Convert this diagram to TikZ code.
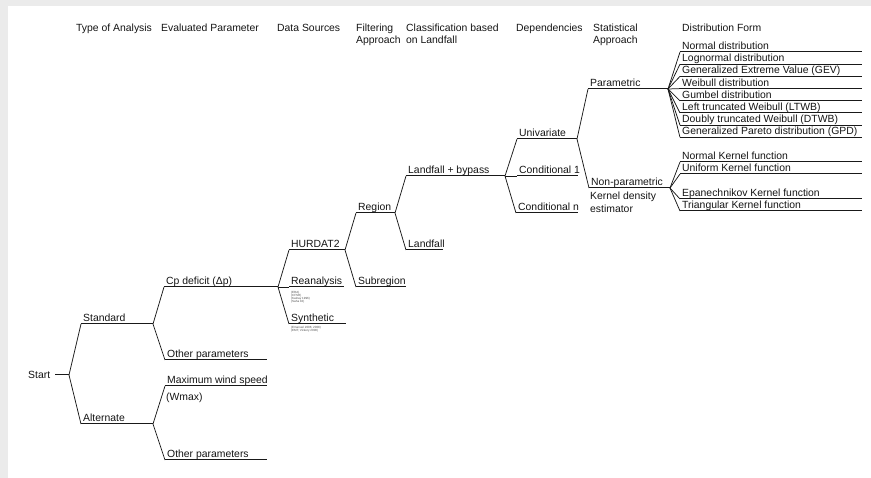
\documentclass[tikz,border=0pt]{standalone}
\usepackage{fontspec}
\setmainfont{Liberation Sans}
% one labelled branch: name, left x, right x, underline y, text
\newcommand\tbranch[5]{%
  \coordinate (#1L) at (#2,#4);
  \coordinate (#1R) at (#3,#4);
  \node[lbl] (#1) at (#2+2,#4-2.5) {#5};
  \draw[ln] (#1L) -- (#1R);}
\begin{document}
\begin{tikzpicture}[x=1pt,y=-1pt,
  lbl/.style={anchor=base west, inner sep=0pt, font=\fontsize{10.4}{12}\selectfont, text=black!92},
  tiny/.style={anchor=base west, inner sep=0pt, font=\fontsize{3}{3}\selectfont, text=black!70},
  ln/.style={draw=black!90, line width=1pt},
  br/.style={draw=black!90, line width=0.75pt}]
\useasboundingbox (0,0) rectangle (871,478);
% page edge shading
\fill[black!8] (0,0) rectangle (871,6);
\fill[black!8] (0,0) rectangle (8,478);

% column headings
\node[lbl] (hType)  at (76,31.5)  {Type of Analysis};
\node[lbl] (hEval)  at (161,31.5) {Evaluated Parameter};
\node[lbl] (hData)  at (277,31.5) {Data Sources};
\node[lbl] (hFilt)  at (356,31.5) {Filtering};
\node[lbl] (hFiltB) at (356,43.5) {Approach};
\node[lbl] (hCls)   at (406,31.5) {Classification based};
\node[lbl] (hClsB)  at (406,43.5) {on Landfall};
\node[lbl] (hDep)   at (516,31.5) {Dependencies};
\node[lbl] (hStat)  at (593,31.5) {Statistical};
\node[lbl] (hStatB) at (593,43.5) {Approach};
\node[lbl] (hDist)  at (682,31.5) {Distribution Form};

% root
\node[lbl] (start) at (28,378.7) {Start};
\coordinate (startA) at (55,375);
\coordinate (startR) at (69,375);
\draw[ln] (startA) -- (startR);

% type of analysis
\tbranch{std}{81}{153}{324}{Standard}
\tbranch{alt}{81}{153}{424}{Alternate}
\draw[br] (startR) -- (stdL);
\draw[br] (startR) -- (altL);

% evaluated parameter
\tbranch{cp}{164}{278}{287}{Cp deficit (Δp)}
\tbranch{othA}{165}{267}{360}{Other parameters}
\tbranch{wmax}{165}{267}{386}{Maximum wind speed}
\node[lbl] (wmaxB) at (166,400.7) {(Wmax)};
\tbranch{othB}{165}{267}{460}{Other parameters}
\draw[br] (stdR) -- (cpL);
\draw[br] (stdR) -- (othAL);
\draw[br] (altR) -- (wmaxL);
\draw[br] (altR) -- (othBL);

% data sources
\tbranch{hur}{289}{345}{250}{HURDAT2}
\tbranch{rea}{289}{344}{287}{Reanalysis}
\tbranch{syn}{289}{346}{324}{Synthetic}
\draw[br] (cpR) -- (hurL);
\draw[br] (cpR) -- (reaL);
\draw[br] (cpR) -- (synL);
\node[tiny] (reaA) at (291,294) {(ERA)};
\node[tiny] (reaB) at (291,297) {(CFSR)};
\node[tiny] (reaC) at (291,300) {(Kalnay 1996)};
\node[tiny] (reaD) at (291,303) {(Saha 10)};
\node[tiny] (synA) at (291,329) {(Emanuel 2006; 2008)};
\node[tiny] (synB) at (291,332) {(EMT; Vickery 2000)};

% filtering approach
\tbranch{reg}{356}{395}{213}{Region}
\tbranch{sub}{356}{406}{287}{Subregion}
\draw[br] (hurR) -- (regL);
\draw[br] (hurR) -- (subL);

% classification based on landfall
\tbranch{lfb}{406}{505}{176}{Landfall + bypass}
\tbranch{lf}{406}{443}{250}{Landfall}
\draw[br] (regR) -- (lfbL);
\draw[br] (regR) -- (lfL);

% dependencies
\tbranch{uni}{517}{577}{139}{Univariate}
\tbranch{cA}{517}{578}{176}{Conditional 1}
\tbranch{cN}{516}{578}{213}{Conditional n}
\draw[br] (lfbR) -- (uniL);
\draw[br] (lfbR) -- (cAL);
\draw[br] (lfbR) -- (cNL);

% statistical approach
\tbranch{par}{588}{668}{89}{Parametric}
\tbranch{np}{589}{670}{188}{Non-parametric}
\node[lbl] (npB) at (590,199.7) {Kernel density};
\node[lbl] (npC) at (590,212.7) {estimator};
\draw[br] (uniR) -- (parL);
\draw[br] (uniR) -- (npL);

% distribution forms
\tbranch{dA}{680}{862}{52}{Normal distribution}
\tbranch{dB}{680}{862}{64.2}{Lognormal distribution}
\tbranch{dC}{680}{862}{76.4}{Generalized Extreme Value (GEV)}
\tbranch{dD}{680}{862}{88.6}{Weibull distribution}
\tbranch{dE}{680}{862}{100.8}{Gumbel distribution}
\tbranch{dF}{680}{862}{113}{Left truncated Weibull (LTWB)}
\tbranch{dG}{680}{862}{125.2}{Doubly truncated Weibull (DTWB)}
\tbranch{dH}{680}{862}{137.4}{Generalized Pareto distribution (GPD)}
\foreach \k in {dA,dB,dC,dD,dE,dF,dG,dH} \draw[br] (parR) -- (\k L);

\tbranch{kA}{680}{862}{162}{Normal Kernel function}
\tbranch{kB}{680}{862}{174}{Uniform Kernel function}
\tbranch{kC}{680}{862}{199}{Epanechnikov Kernel function}
\tbranch{kD}{680}{862}{211}{Triangular Kernel function}
\foreach \k in {kA,kB,kC,kD} \draw[br] (npR) -- (\k L);
\end{tikzpicture}
\end{document}
